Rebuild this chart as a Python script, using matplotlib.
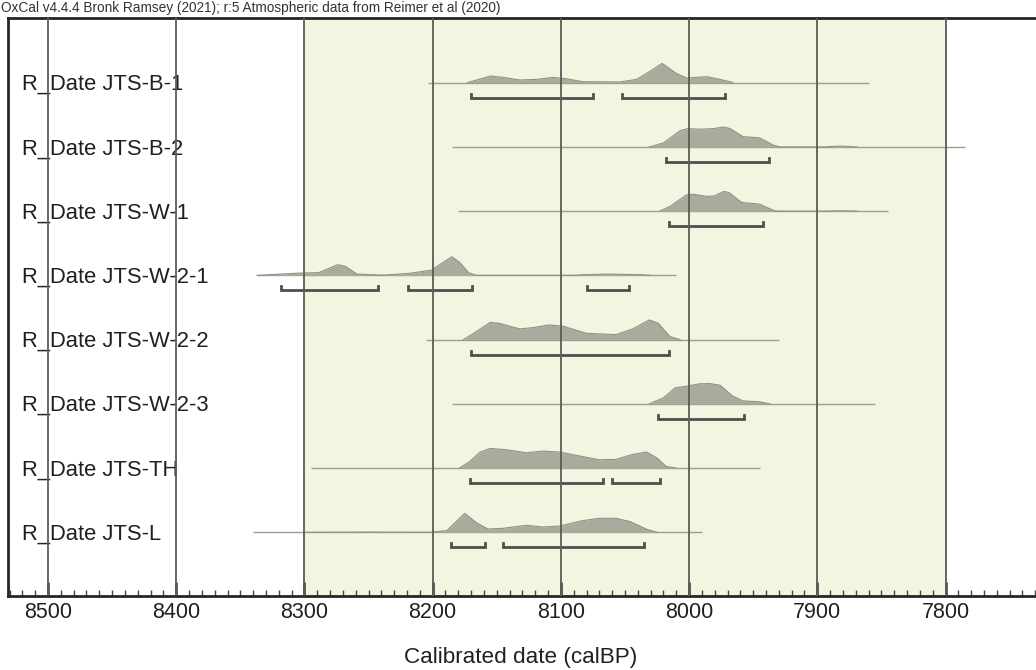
import matplotlib
matplotlib.use("Agg")
import matplotlib.pyplot as plt
import numpy as np

plt.rcParams['font.family'] = ['Liberation Sans', 'DejaVu Sans']

# ---------------- data ----------------
labels = ["R_Date JTS-B-1", "R_Date JTS-B-2", "R_Date JTS-W-1", "R_Date JTS-W-2-1",
          "R_Date JTS-W-2-2", "R_Date JTS-W-2-3", "R_Date JTS-TH", "R_Date JTS-L"]

# extent of the thin range line for each date (calBP, older -> younger)
line_start = [8204, 8185, 8180, 8337, 8205, 8185, 8295, 8340]
line_end = [7860, 7785, 7845, 8010, 7930, 7855, 7945, 7990]

# posterior probability curves (calBP, relative density)
B1_date = [8173, 8164, 8155, 8145, 8132, 8119, 8106, 8096, 8083, 8054, 8041, 8031, 8021, 8010, 8002, 7986, 7976, 7966]
B1_prob = [0, 3.3, 6.7, 5.3, 2.7, 3.3, 5.3, 4.0, 1.0, 0.7, 3.3, 11, 19.3, 9.3, 4.7, 6.0, 3.3, 0.3]

B2_date = [8031, 8020, 8007, 8001, 7992, 7981, 7973, 7968, 7958, 7945, 7934, 7929, 7895, 7886, 7882, 7878, 7869]
B2_prob = [0, 4.0, 16.3, 18.3, 17.7, 18.3, 20.0, 18.3, 10.3, 9.0, 1.7, 0, 0, 0.6, 0.8, 0.6, 0]

W1_date = [8023, 8015, 8002, 7997, 7986, 7980, 7973, 7969, 7959, 7945, 7934, 7930, 7895, 7886, 7882, 7878, 7869]
W1_prob = [0, 4.7, 16.3, 17.0, 14.7, 15.3, 19.7, 18.7, 8.7, 7.0, 0.7, 0, 0, 0.3, 0.4, 0.3, 0]

W21_date = [8337, 8304, 8289, 8274, 8268, 8259, 8239, 8218, 8201, 8185, 8179, 8172, 8166, 8090, 8083, 8064, 8036, 8030]
W21_prob = [0, 2.3, 2.7, 10.7, 9.0, 1.3, 0.2, 2.0, 5.3, 18.7, 13.0, 2.7, 0, 0, 0.6, 1.3, 0.6, 0]

W22_date = [8176, 8168, 8155, 8148, 8132, 8122, 8109, 8098, 8080, 8057, 8044, 8031, 8024, 8015, 8007]
W22_prob = [0, 6.3, 17.3, 16.3, 10.7, 12.0, 14.7, 13.3, 6.3, 5.0, 10.7, 19.7, 16.3, 3.0, 0]

W23_date = [8031, 8020, 8011, 8002, 7992, 7984, 7976, 7966, 7958, 7945, 7937]
W23_prob = [0, 6.0, 16.0, 17.7, 20.0, 20.3, 18.7, 7.7, 3.0, 2.0, 0]

TH_date = [8179, 8171, 8163, 8155, 8142, 8127, 8114, 8101, 8085, 8070, 8057, 8044, 8033, 8025, 8018, 8010]
TH_prob = [0, 6.7, 16.0, 19.7, 18.3, 15.3, 17.0, 16.0, 12.0, 8.3, 8.7, 13.7, 16.0, 10.0, 1.7, 0]

L_date = [8300, 8250, 8202, 8189, 8175, 8166, 8157, 8145, 8127, 8114, 8101, 8083, 8070, 8057, 8046, 8033, 8025]
L_prob = [0, 0.2, 0, 1.7, 19.0, 9.7, 3.3, 4.0, 7.0, 5.3, 6.3, 11.7, 14.0, 14.0, 10.7, 3.0, 0]

# 95.4% highest posterior density ranges (calBP)
B1_hpd = [(8170, 8075), (8052, 7972)]
B2_hpd = [(8018, 7938)]
W1_hpd = [(8016, 7942)]
W21_hpd = [(8318, 8243), (8219, 8169), (8080, 8047)]
W22_hpd = [(8170, 8016)]
W23_hpd = [(8024, 7957)]
TH_hpd = [(8171, 8067), (8060, 8023)]
L_hpd = [(8186, 8159), (8145, 8035)]

major_ticks = [8500, 8400, 8300, 8200, 8100, 8000, 7900, 7800]
shade_range = (8300, 7800)

header = "OxCal v4.4.4 Bronk Ramsey (2021); r:5 Atmospheric data from Reimer et al (2020)"
xlabel = "Calibrated date (calBP)"

curves = [(B1_date, B1_prob), (B2_date, B2_prob), (W1_date, W1_prob), (W21_date, W21_prob),
          (W22_date, W22_prob), (W23_date, W23_prob), (TH_date, TH_prob), (L_date, L_prob)]
hpds = [B1_hpd, B2_hpd, W1_hpd, W21_hpd, W22_hpd, W23_hpd, TH_hpd, L_hpd]

# ---------------- drawing ----------------
W, H = 1036, 670
fig = plt.figure(figsize=(W / 100, H / 100), dpi=100)
ax = fig.add_axes([8 / W, 74 / H, 1028 / W, 578 / H])

PX_PER_YR = 1.2822
x_left = 8500 + 40 / PX_PER_YR
x_right = 8500 - (1036 - 48) / PX_PER_YR
ax.set_xlim(x_left, x_right)

row_px = 64.23
y_top = (18 - 82.7) / row_px
y_bot = (596 - 82.7) / row_px
ax.set_ylim(y_bot, y_top)

scale = 1.0 / row_px  # density units are pixel-like heights

ax.axvspan(shade_range[0], shade_range[1], color='#f1f6e1', zorder=0, lw=0)

for i in range(len(labels)):
    ax.plot([line_start[i], line_end[i]], [i, i], color='#9c9e94', lw=1.0, zorder=2,
            solid_capstyle='butt')
    d, p = curves[i]
    d = np.array(d, float)
    p = np.array(p, float) * scale
    ax.fill_between(d, i, i - p, color='#a9ac9d', lw=0, zorder=3)
    ax.plot(d, i - p, color='#8e9183', lw=0.8, zorder=3)
    off = 15 / row_px
    tk = 4 / row_px
    for (a, b) in hpds[i]:
        ax.plot([a, a, b, b], [i + off - tk, i + off, i + off, i + off - tk],
                color='#4e4f4a', lw=2.0, zorder=5, solid_joinstyle='miter')
    ax.text(8500 - (22 - 48) / PX_PER_YR, i + 7.3 / row_px, labels[i], fontsize=15.8,
            color='#231f20', ha='left', va='baseline', zorder=3)

for t in major_ticks:
    ax.axvline(t, color='#5c5c58', lw=1.3, zorder=6)

ax.set_xticks(major_ticks)
ax.set_xticks(np.arange(7730, 8531, 10), minor=True)
ax.tick_params(axis='x', which='major', direction='in', length=10, width=1.8,
               color='#333333', labelsize=15.5, pad=4, labelcolor='#231f20')
ax.tick_params(axis='x', which='minor', direction='in', length=4, width=1.0, color='#444444')
ax.set_yticks([])

for s in ['top', 'left', 'bottom']:
    ax.spines[s].set_linewidth(2.0)
    ax.spines[s].set_color('#2a2426')
ax.spines['right'].set_visible(False)

fig.text(1 / W, 1 - 8 / H, header, fontsize=9.8, color='#333333', ha='left', va='center')
fig.text(521 / W, 1 - 657 / H, xlabel, fontsize=16.2, color='#231f20', ha='center', va='center')

fig.savefig("out.png", dpi=100)
